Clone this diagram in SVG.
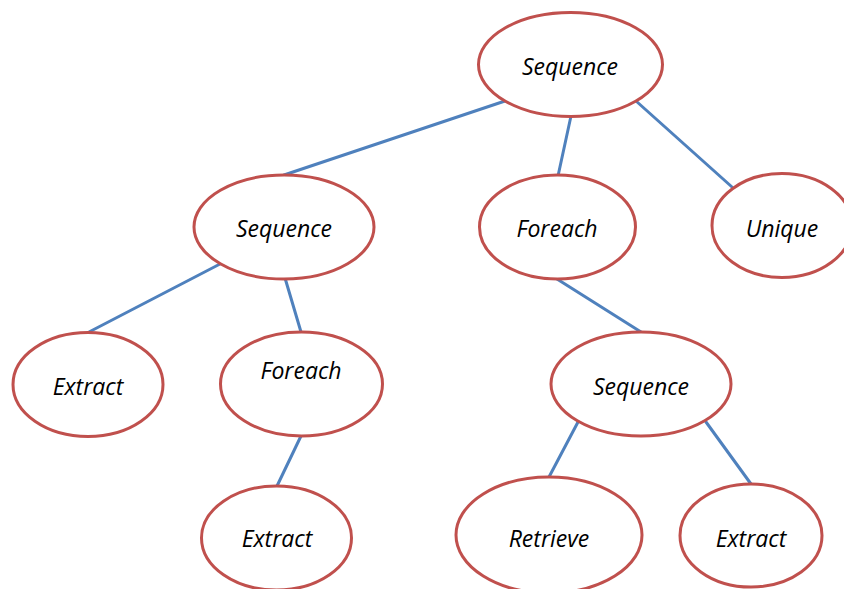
<svg xmlns="http://www.w3.org/2000/svg" width="844" height="589" viewBox="0 0 844 589">
<style>
.n ellipse{fill:#fff;stroke:#c0504d;stroke-width:3}
.n text{font-family:"Open Sans","Liberation Sans",sans-serif;font-style:italic;font-size:23px;fill:#000;text-anchor:middle}
.c line{stroke:#4f81bd;stroke-width:3;stroke-linecap:round}
</style>
<rect width="844" height="589" fill="#fff"/>
<g class="c" id="connectors">
<line x1="505" y1="101" x2="284" y2="175"/>
<line x1="571" y1="116" x2="558" y2="176"/>
<line x1="636" y1="101" x2="732" y2="187"/>
<line x1="220" y1="264" x2="89" y2="332"/>
<line x1="285" y1="278" x2="301" y2="332"/>
<line x1="301" y1="436" x2="277" y2="486"/>
<line x1="557" y1="279" x2="641" y2="332"/>
<line x1="578" y1="422" x2="549" y2="477"/>
<line x1="706" y1="422" x2="751" y2="484"/>
</g>
<g class="n" id="seq_root"><ellipse cx="570.5" cy="64.5" rx="92" ry="52"/><text x="570" y="75">Sequence</text></g>
<g class="n" id="seq_left"><ellipse cx="284" cy="227" rx="90" ry="52"/><text x="284" y="237">Sequence</text></g>
<g class="n" id="foreach_mid"><ellipse cx="557.5" cy="227" rx="78" ry="52"/><text x="557" y="237">Foreach</text></g>
<g class="n" id="unique"><ellipse cx="782" cy="225.5" rx="70" ry="52"/><text x="782" y="237">Unique</text></g>
<g class="n" id="extract_left"><ellipse cx="88" cy="384.5" rx="75" ry="52"/><text x="88" y="395">Extract</text></g>
<g class="n" id="foreach_left"><ellipse cx="301.5" cy="384" rx="81" ry="52"/><text x="301" y="379">Foreach</text></g>
<g class="n" id="seq_bottom"><ellipse cx="641" cy="384" rx="90" ry="52"/><text x="641" y="395">Sequence</text></g>
<g class="n" id="extract_mid"><ellipse cx="276.5" cy="538" rx="75" ry="52"/><text x="277" y="547">Extract</text></g>
<g class="n" id="retrieve"><ellipse cx="549" cy="535" rx="93" ry="58"/><text x="549" y="547">Retrieve</text></g>
<g class="n" id="extract_right"><ellipse cx="751" cy="535.5" rx="71" ry="51.5"/><text x="751" y="547">Extract</text></g>
</svg>
